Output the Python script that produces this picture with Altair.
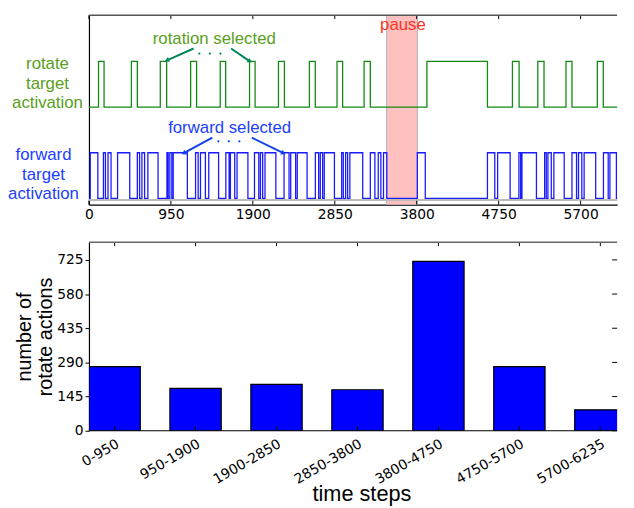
import altair as alt
import pandas as pd

# ---------------- data ----------------
x_ticks = [0, 950, 1900, 2850, 3800, 4750, 5700]
t_end = 6235

rotate_on = [111, 492, 827, 1179, 1522, 1862, 2197, 2556, 2876, 3190, 3918, 4910, 5204, 5531, 5894]
rotate_off = [175, 561, 901, 1248, 1585, 1926, 2266, 2624, 2941, 3262, 4620, 4987, 5276, 5600, 5963]

forward_on = [15, 168, 221, 332, 561, 614, 683, 904, 938, 977, 1236, 1293, 1389, 1587, 1640,
              1717, 1919, 1988, 2041, 2262, 2339, 2415, 2625, 2682, 2728, 2930, 2976, 3025,
              3262, 3354, 3415, 3807, 4620, 4738, 4985, 5020, 5283, 5321, 5390, 5600, 5676,
              5741, 5965, 6040, 6138]
forward_off = [103, 191, 256, 473, 587, 645, 801, 919, 961, 1141, 1266, 1350, 1503, 1625, 1690,
               1843, 1969, 2014, 2167, 2320, 2396, 2529, 2663, 2709, 2846, 2949, 2999, 3174,
               3315, 3384, 3453, 3899, 4705, 4883, 5005, 5188, 5302, 5360, 5510, 5653, 5714,
               5875, 6020, 6115, 6235]

pause_start, pause_end = 3450, 3808

bins = ["0-950", "950-1900", "1900-2850", "2850-3800", "3800-4750", "4750-5700", "5700-6235"]
rotate_counts = [272, 180, 197, 174, 719, 272, 89]
count_ticks = [0, 145, 290, 435, 580, 725]

# annotation anchors (time step, level)
ann_text = ["rotation selected", "forward selected", "pause"]
ann_x = [1453, 1631, 3640]
ann_y = [3.49, 1.55, 3.79]
green_dots_x = [1280, 1402, 1524]
blue_dots_x = [1500, 1622, 1744]
green_dots_y = 3.17
blue_dots_y = 1.25
arrow_x0 = [1213, 1648, 1431, 1888]
arrow_y0 = [3.28, 3.28, 1.33, 1.33]
arrow_x1 = [904, 1866, 1099, 2255]
arrow_y1 = [3.02, 3.00, 0.99, 0.99]
arrow_angle = [246, 124, 241, 117]

GREEN_LINE = "#108a10"
GREEN_TEXT = "#58a020"
GREEN_ARROW = "#00845a"
BLUE_LINE = "#1a1aff"
BLUE_TEXT = "#2040ff"
BLUE_ARROW = "#1040ee"
arrow_color = [GREEN_ARROW, GREEN_ARROW, BLUE_ARROW, BLUE_ARROW]

FONT = "Liberation Sans"
TICKFONT = "DejaVu Sans"

W = 535
H1 = 192
H2 = 191
PX_PER_STEP = 0.08737


def step_rows(on, off, base, series):
    rows = [(0, base, series)]
    for a, b in zip(on, off):
        rows.append((a, base + 1, series))
        rows.append((b, base, series))
    rows.append((t_end, rows[-1][1], series))
    return rows


rot_df = pd.DataFrame(step_rows(rotate_on, rotate_off, 2, "rotate"), columns=["t", "v", "s"])
fwd_df = pd.DataFrame(step_rows(forward_on, forward_off, 0, "forward"), columns=["t", "v", "s"])

xscale = alt.Scale(domain=[0, W / PX_PER_STEP], nice=False, zero=False)
yscale = alt.Scale(domain=[-0.136, 4.01], nice=False, zero=False)
xaxis = alt.Axis(values=x_ticks, format="d", ticks=False, labelPadding=3, labelFont=TICKFONT,
                 labelFontSize=14, labelColor="black", domainColor="black", domainWidth=1.2, title=None,
                 grid=False, labelFlush=False, labelOverlap=False)
yaxis = alt.Axis(labels=False, ticks=False, domainColor="black", domainWidth=1.2, title=None, grid=False)


def X(field, **kw):
    return alt.X(field, type="quantitative", scale=xscale, axis=xaxis, **kw)


def Y(field, **kw):
    return alt.Y(field, type="quantitative", scale=yscale, axis=yaxis, **kw)


one = pd.DataFrame({"a": [0]})

pause_df = pd.DataFrame({"t0": [pause_start], "t1": [pause_end]})
pause_rect = alt.Chart(pause_df).mark_rect(color="#ffc0c0", clip=True).encode(
    x=X("t0"), x2="t1", y=alt.value(0), y2=alt.value(H1))
pause_edges = alt.Chart(pd.DataFrame({"t": [pause_start, pause_end]})).mark_rule(
    color="#bbbbbb", strokeWidth=1.2).encode(x=X("t"), y=alt.value(0), y2=alt.value(H1))

baseline = alt.Chart(pd.DataFrame({"b": [-0.035]})).mark_rule(color="#bbbbbb", strokeWidth=2).encode(
    y=Y("b"), x=alt.value(0), x2=alt.value(W))

rot_line = alt.Chart(rot_df).mark_line(interpolate="step-after", color=GREEN_LINE, strokeWidth=1.3,
                                       clip=True).encode(x=X("t"), y=Y("v"))
fwd_line = alt.Chart(fwd_df).mark_line(interpolate="step-after", color=BLUE_LINE, strokeWidth=1.3,
                                       clip=True).encode(x=X("t"), y=Y("v"))

ann_df = pd.DataFrame({"x": ann_x, "y": ann_y, "txt": ann_text,
                       "c": [GREEN_TEXT, BLUE_TEXT, "#ff3322"]})
ann = alt.Chart(ann_df).mark_text(font=FONT, fontSize=17, baseline="middle", align="center").encode(
    x=X("x"), y=Y("y"), text="txt:N", color=alt.Color("c:N", scale=None))

dots_df = pd.DataFrame({"x": green_dots_x + blue_dots_x,
                        "y": [green_dots_y] * 3 + [blue_dots_y] * 3,
                        "c": [GREEN_ARROW] * 3 + [BLUE_ARROW] * 3})
dots = alt.Chart(dots_df).mark_circle(size=5, opacity=1).encode(
    x=X("x"), y=Y("y"), color=alt.Color("c:N", scale=None))

arr_df = pd.DataFrame({"x0": arrow_x0, "y0": arrow_y0, "x1": arrow_x1, "y1": arrow_y1,
                       "ang": arrow_angle, "c": arrow_color})
arr_lines = alt.Chart(arr_df).mark_rule(strokeWidth=2).encode(
    x=X("x0"), y=Y("y0"), x2="x1", y2="y1", color=alt.Color("c:N", scale=None))
arr_heads = alt.Chart(arr_df).mark_point(shape="triangle-up", filled=True, size=28, opacity=1).encode(
    x=X("x1"), y=Y("y1"), angle=alt.Angle("ang:Q", scale=None), color=alt.Color("c:N", scale=None))

tick_df = pd.DataFrame({"t": x_ticks})
top_ticks = alt.Chart(tick_df).mark_rule(color="black").encode(x=X("t"), y=alt.value(0), y2=alt.value(4))
bot_ticks = alt.Chart(tick_df).mark_rule(color="black").encode(x=X("t"), y=alt.value(H1 - 4), y2=alt.value(H1))
top_spine = alt.Chart(one).mark_rule(color="#555555", strokeWidth=1.5).encode(
    x=alt.value(0), x2=alt.value(W), y=alt.value(0))
left_anchor = alt.Chart(one).mark_rule(opacity=0).encode(
    x=alt.value(-82), y=alt.value(100), y2=alt.value(101))

rot_label = alt.Chart(one).mark_text(text="rotate\ntarget\nactivation", lineBreak="\n", lineHeight=19.5,
                                     font=FONT, fontSize=17, color=GREEN_TEXT, align="center",
                                     baseline="middle").encode(x=alt.value(-42), y=alt.value(50))
fwd_label = alt.Chart(one).mark_text(text="forward\ntarget\nactivation", lineBreak="\n", lineHeight=19.5,
                                     font=FONT, fontSize=17, color=BLUE_TEXT, align="center",
                                     baseline="middle").encode(x=alt.value(-46), y=alt.value(142))

top = alt.layer(pause_rect, pause_edges, baseline, rot_line, fwd_line, arr_lines, arr_heads, dots, ann,
                top_ticks, bot_ticks, top_spine, left_anchor, rot_label, fwd_label
                ).properties(width=W, height=H1)

# ---------------- bottom panel ----------------
bar_df = pd.DataFrame({"bin": bins, "n": rotate_counts})
bxscale = alt.Scale(domain=bins, paddingInner=0.366, paddingOuter=0, range=[0, 544])
byscale = alt.Scale(domain=[0, 800], nice=False)
bxaxis = alt.Axis(ticks=False, domain=False, labelAngle=-30, labelAlign="right", labelBaseline="top",
                  labelPadding=6, labelFont=TICKFONT, labelFontSize=14, labelColor="black",
                  title="time steps", titleFont=FONT, titleFontSize=22, titleX=276,
                  titleFontWeight="normal", titleColor="black", titleY=71, titleBaseline="alphabetic",
                  grid=False, labelOverlap=False)
byaxis = alt.Axis(values=count_ticks, tickSize=4, tickColor="black", labelPadding=2, labelFont=TICKFONT,
                  labelFontSize=14, labelColor="black", domainColor="black", domainWidth=1.2,
                  title=["number of", "rotate actions"], titleFont=FONT, titleFontSize=20,
                  titleFontWeight="normal", titleColor="black", titlePadding=1, titleLineHeight=21,
                  grid=False)


def BX(field, **kw):
    return alt.X(field, type="nominal", sort=bins, scale=bxscale, axis=bxaxis, **kw)


def BY(field, **kw):
    return alt.Y(field, type="quantitative", scale=byscale, axis=byaxis, **kw)


bars = alt.Chart(bar_df).mark_bar(color="#0000ff", stroke="black", strokeWidth=1.2, clip=True).encode(
    x=BX("bin"), y=BY("n"))
b_top_ticks = alt.Chart(bar_df).mark_rule(color="black").encode(
    x=BX("bin"), y=alt.value(0), y2=alt.value(4))
b_bot_ticks = alt.Chart(bar_df).mark_rule(color="black").encode(
    x=BX("bin"), y=alt.value(H2 - 4), y2=alt.value(H2))
b_right_ticks = alt.Chart(pd.DataFrame({"v": count_ticks})).mark_rule(color="black").encode(
    y=BY("v"), x=alt.value(W - 5), x2=alt.value(W))
b_top_spine = alt.Chart(one).mark_rule(color="#666666", strokeWidth=1.5).encode(
    x=alt.value(0), x2=alt.value(W), y=alt.value(0))
b_bot_spine = alt.Chart(one).mark_rule(color="black", strokeWidth=1.2).encode(
    x=alt.value(0), x2=alt.value(W), y=alt.value(H2))

bottom = alt.layer(bars, b_top_ticks, b_bot_ticks, b_right_ticks, b_top_spine, b_bot_spine
                   ).properties(width=W, height=H2)

chart = alt.vconcat(top, bottom, spacing=38, bounds="flush").properties(
    padding={"left": 0, "top": 3, "right": 0, "bottom": 0}
).configure_view(stroke=None).configure_axis(grid=False)

chart.save("out.html", embed_options={"renderer": "svg", "actions": False})
